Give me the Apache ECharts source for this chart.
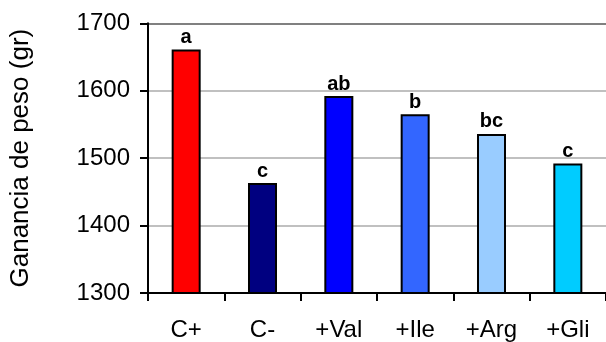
<!DOCTYPE html>
<html>
<head>
<meta charset="utf-8">
<script src="https://cdn.jsdelivr.net/npm/echarts@6/dist/echarts.min.js"></script>
<style>html,body{margin:0;padding:0;background:#fff;}#c{width:606px;height:342px;}</style>
</head>
<body>
<div id="c"></div>
<script>
const categories = ['C+', 'C-', '+Val', '+Ile', '+Arg', '+Gli'];
const values = [1661, 1463, 1592, 1565, 1536, 1492];
const letters = ['a', 'c', 'ab', 'b', 'bc', 'c'];
const barColors = ['#FF0000', '#000080', '#0000FF', '#3366FF', '#99CCFF', '#00CCFF'];
const yTicks = [1300, 1400, 1500, 1600, 1700];
const yTitle = 'Ganancia de peso (gr)';

const chart = echarts.init(document.getElementById('c'), null, {renderer: 'canvas'});
const font = '"Liberation Sans", Arial, sans-serif';
chart.setOption({
  animation: false,
  backgroundColor: '#fff',
  grid: {left: 144, top: 23.3, width: 473, height: 271.4, containLabel: false},
  xAxis: {
    type: 'category',
    data: categories,
    boundaryGap: true,
    axisLine: {lineStyle: {color: '#000', width: 2}},
    axisTick: {show: true, length: 8, lineStyle: {color: '#000', width: 2}},
    axisLabel: {color: '#000', fontFamily: font, fontSize: 24, margin: 25},
    splitLine: {show: false}
  },
  yAxis: {
    type: 'value',
    min: yTicks[0],
    max: yTicks[yTicks.length - 1],
    interval: 100,
    name: yTitle,
    nameLocation: 'middle',
    nameRotate: 90,
    nameGap: 114,
    nameTextStyle: {color: '#000', fontFamily: font, fontSize: 26},
    axisLine: {show: true, lineStyle: {color: '#000', width: 2}},
    axisTick: {show: true, length: 8, lineStyle: {color: '#000', width: 2}},
    axisLabel: {color: '#000', fontFamily: font, fontSize: 24, margin: 18, formatter: v => String(v)},
    splitLine: {show: true, lineStyle: {color: ['#c0c0c0', '#c0c0c0', '#c0c0c0', '#c0c0c0', '#808080'], width: 2}}
  },
  series: [{
    type: 'bar',
    barWidth: '38%',
    data: values.map((v, i) => ({
      value: v,
      itemStyle: {color: barColors[i], borderColor: '#000', borderWidth: 2},
      label: {show: true, position: 'top', distance: 2, formatter: letters[i], color: '#000', fontFamily: font, fontWeight: 'bold', fontSize: 20}
    }))
  }]
});
</script>
</body>
</html>
